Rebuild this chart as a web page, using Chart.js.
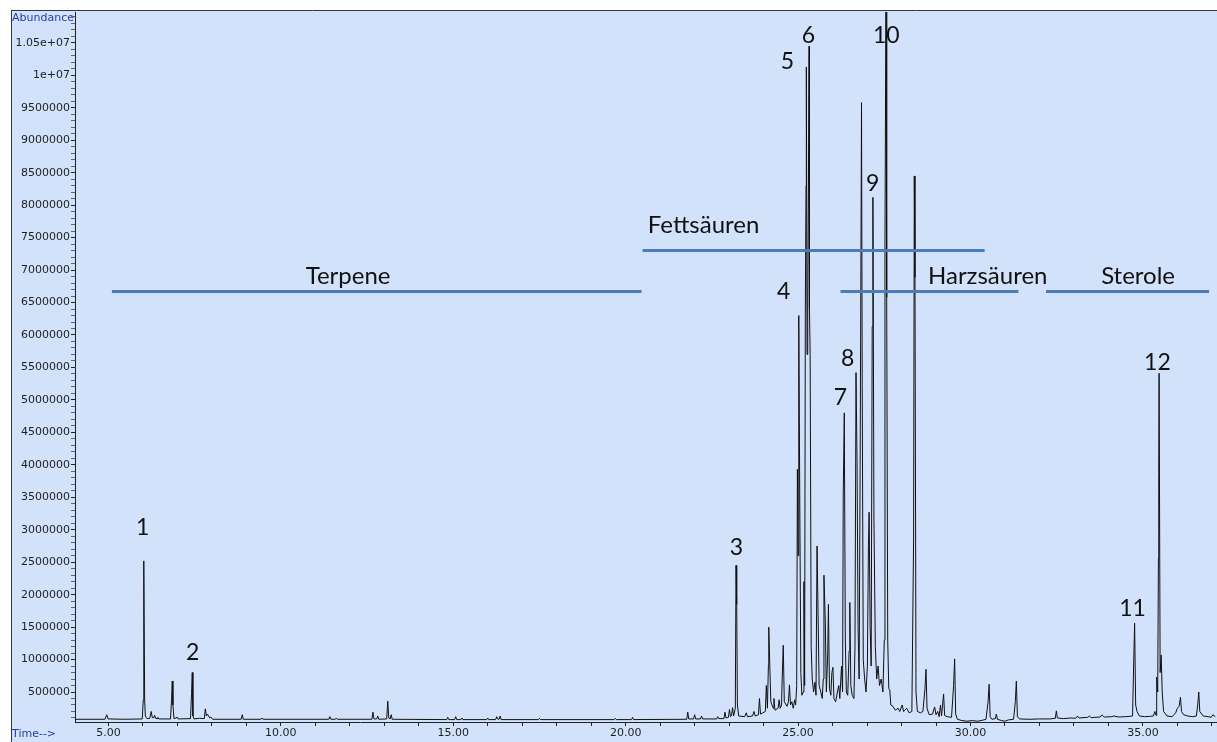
<!DOCTYPE html>
<html>
<head>
<meta charset="utf-8">
<script src="https://cdn.jsdelivr.net/npm/chart.js@4.4.0/dist/chart.umd.min.js"></script>
<style>
  html, body { margin: 0; padding: 0; background: #fff; }
  canvas { display: block; }
</style>
</head>
<body>
<canvas id="tic" width="1217" height="742"></canvas>
<script>
// retention time (min) and abundance
const rtEarly = [4.03, 4.90, 4.95, 4.99, 5.50, 5.98, 6.01, 6.02, 6.03, 6.05, 6.07, 6.12, 6.20, 6.24, 6.27, 6.31, 6.34, 6.37, 6.41, 6.43, 6.46,
  6.80, 6.83, 6.85, 6.87, 6.90, 7.00, 7.02, 7.38, 7.41, 7.43, 7.45, 7.48, 7.64, 7.78, 7.81, 7.84, 7.87, 7.94, 7.97, 8.02,
  8.85, 8.88, 8.91, 9.42, 9.45, 9.48, 11.39, 11.42, 11.45, 11.58, 11.61, 11.64, 12.64, 12.67, 12.70, 12.78, 12.81, 12.84,
  13.07, 13.10, 13.13, 13.17, 13.20, 13.23, 14.81, 14.84, 14.87, 15.04, 15.07, 15.10, 15.22, 15.25, 15.28, 15.97, 16.00, 16.03,
  16.23, 16.26, 16.30, 16.33, 16.36, 16.39, 17.47, 17.50, 17.53, 19.67, 19.70, 19.73, 20.17, 20.20, 20.23, 21.77, 21.80, 21.83,
  21.97, 22.00, 22.03, 22.17, 22.20, 22.23, 22.64, 22.67, 22.70];
const abEarly = [80000, 80000, 150000, 85000, 80000, 85000, 380000, 1760000, 2520000, 380000, 130000, 90000, 95000, 200000, 110000, 100000, 140000, 95000, 90000, 110000, 85000,
  85000, 380000, 670000, 300000, 90000, 110000, 85000, 90000, 480000, 800000, 130000, 85000, 95000, 90000, 240000, 130000, 160000, 100000, 115000, 80000,
  80000, 150000, 80000, 80000, 100000, 80000, 80000, 120000, 80000, 80000, 100000, 80000, 80000, 190000, 85000, 85000, 130000, 80000,
  85000, 360000, 100000, 85000, 150000, 80000, 75000, 110000, 75000, 75000, 120000, 75000, 75000, 100000, 75000, 75000, 100000, 75000,
  75000, 120000, 80000, 80000, 130000, 75000, 75000, 95000, 75000, 75000, 95000, 75000, 75000, 110000, 75000, 80000, 190000, 85000,
  85000, 150000, 85000, 85000, 130000, 85000, 85000, 120000, 90000];

const rtMid = [22.85, 22.88, 22.91, 22.98, 23.01, 23.04, 23.07, 23.10, 23.13, 23.18, 23.20, 23.22, 23.24, 23.28, 23.45, 23.50, 23.53,
  23.68, 23.72, 23.76, 23.85, 23.88, 23.91, 24.05, 24.08, 24.11, 24.14, 24.15, 24.18, 24.21, 24.28, 24.30, 24.33, 24.42, 24.45, 24.48,
  24.52, 24.54, 24.57, 24.60, 24.68, 24.72, 24.75, 24.78, 24.82, 24.86, 24.90, 24.93, 24.96, 24.98, 25.00, 25.02, 25.05, 25.08, 25.11,
  25.15, 25.17, 25.19, 25.21, 25.23, 25.24, 25.26, 25.28, 25.30, 25.32, 25.33, 25.35, 25.38, 25.41, 25.45, 25.49, 25.52, 25.55, 25.58,
  25.61, 25.66, 25.70, 25.73, 25.75, 25.79, 25.82, 25.86, 25.88, 25.91, 25.95, 25.98, 26.01, 26.04, 26.09, 26.14, 26.18, 26.21, 26.26,
  26.29, 26.31, 26.34, 26.37, 26.40, 26.44, 26.48, 26.50, 26.53, 26.57, 26.62, 26.65, 26.68, 26.71, 26.74, 26.77, 26.80, 26.84, 26.86,
  26.89, 26.93, 26.97, 27.01, 27.04, 27.06, 27.09, 27.12, 27.15, 27.17, 27.20, 27.24, 27.28, 27.32, 27.36, 27.41, 27.46, 27.50, 27.52,
  27.55, 27.57, 27.60, 27.63, 27.66, 27.69, 27.75, 27.82, 27.90, 27.95, 28.02, 28.06, 28.15, 28.22, 28.30, 28.35, 28.37, 28.39, 28.42,
  28.46, 28.55, 28.62, 28.68, 28.71, 28.74, 28.80, 28.90, 28.96, 29.00, 29.05, 29.09, 29.13, 29.16, 29.22, 29.25, 29.32];
const abMid = [90000, 190000, 100000, 110000, 230000, 120000, 140000, 260000, 130000, 250000, 2450000, 1850000, 300000, 130000, 120000, 180000, 120000,
  130000, 200000, 130000, 150000, 400000, 160000, 200000, 600000, 250000, 920000, 1500000, 900000, 350000, 250000, 400000, 220000, 250000, 380000, 250000,
  300000, 730000, 1220000, 350000, 280000, 350000, 610000, 300000, 350000, 250000, 380000, 300000, 600000, 3930000, 2600000, 6300000, 3360000, 800000, 450000,
  500000, 2200000, 600000, 6350000, 8300000, 10130000, 5700000, 6400000, 8300000, 10450000, 6400000, 5700000, 1200000, 700000, 500000, 650000, 450000, 2750000, 1700000,
  600000, 500000, 400000, 700000, 2300000, 1580000, 500000, 1100000, 1850000, 550000, 450000, 800000, 880000, 400000, 350000, 500000, 600000, 400000, 900000,
  500000, 3580000, 4800000, 1300000, 500000, 450000, 1130000, 1880000, 600000, 450000, 400000, 1180000, 5420000, 4040000, 1500000, 700000, 3990000, 9580000, 5220000,
  1000000, 700000, 500000, 900000, 2760000, 3270000, 1500000, 900000, 6130000, 8120000, 3150000, 1200000, 700000, 900000, 600000, 700000, 500000, 1300000, 7400000,
  11500000, 6580000, 1300000, 550000, 530000, 300000, 280000, 220000, 250000, 200000, 300000, 200000, 250000, 180000, 200000, 2870000, 8450000, 6890000, 500000,
  200000, 180000, 200000, 550000, 850000, 250000, 150000, 160000, 270000, 150000, 200000, 120000, 300000, 130000, 470000, 140000, 120000];

const rtLate = [29.45, 29.51, 29.54, 29.57, 29.62, 29.75, 29.90, 30.05, 30.20, 30.35, 30.45, 30.51, 30.54, 30.57, 30.62, 30.72, 30.75, 30.78,
  30.90, 31.00, 31.10, 31.25, 31.30, 31.33, 31.36, 31.42, 31.70, 32.00, 32.30, 32.46, 32.49, 32.52, 32.70, 32.90, 33.05, 33.10, 33.15,
  33.40, 33.45, 33.50, 33.75, 33.82, 33.88, 34.10, 34.15, 34.30, 34.50, 34.60, 34.70, 34.73, 34.76, 34.79, 34.83, 34.90, 35.05, 35.20,
  35.30, 35.35, 35.38, 35.40, 35.43, 35.45, 35.46, 35.47, 35.50, 35.53, 35.56, 35.60, 35.70, 35.85, 35.95, 36.00, 36.05, 36.09, 36.12,
  36.18, 36.30, 36.45, 36.55, 36.59, 36.62, 36.65, 36.75, 36.90, 36.98, 37.03, 37.10];
const abLate = [110000, 600000, 1010000, 160000, 80000, 60000, 50000, 60000, 50000, 65000, 80000, 350000, 620000, 120000, 80000, 90000, 160000, 80000,
  60000, 50000, 70000, 80000, 350000, 670000, 120000, 85000, 80000, 85000, 85000, 95000, 210000, 100000, 90000, 100000, 95000, 130000, 100000,
  110000, 130000, 105000, 115000, 145000, 115000, 120000, 130000, 115000, 120000, 125000, 130000, 870000, 1560000, 300000, 200000, 130000, 120000, 125000,
  130000, 200000, 140000, 730000, 500000, 2560000, 3870000, 5410000, 800000, 1070000, 500000, 200000, 130000, 120000, 180000, 250000, 280000, 420000, 200000,
  150000, 130000, 120000, 130000, 300000, 500000, 200000, 130000, 120000, 110000, 150000, 120000];

// axis ticks
const yTickValues = [500000, 1000000, 1500000, 2000000, 2500000, 3000000, 3500000, 4000000, 4500000, 5000000, 5500000,
  6000000, 6500000, 7000000, 7500000, 8000000, 8500000, 9000000, 9500000, 10000000, 10500000];
const yTickLabels = ['500000', '1000000', '1500000', '2000000', '2500000', '3000000', '3500000', '4000000', '4500000', '5000000', '5500000',
  '6000000', '6500000', '7000000', '7500000', '8000000', '8500000', '9000000', '9500000', '1e+07', '1.05e+07'];
const xTickValues = [5, 10, 15, 20, 25, 30, 35];
const xTickLabels = ['5.00', '10.00', '15.00', '20.00', '25.00', '30.00', '35.00'];

// compound class ranges (min) drawn as bars above the peaks
const groupNames = ['Terpene', 'Fettsäuren', 'Harzsäuren', 'Sterole'];
const groupStart = [5.10, 20.49, 26.23, 32.19];
const groupEnd = [20.46, 30.41, 31.39, 36.92];
const groupLevel = [6670000, 7300000, 6670000, 6670000];
const groupTextAt = [11.95, 22.26, 30.50, 34.86];

// peak numbers
const peakNo = ['1', '2', '3', '4', '5', '6', '7', '8', '9', '10', '11', '12'];
const peakNoRt = [5.99, 7.44, 23.21, 24.58, 24.69, 25.30, 26.23, 26.44, 27.16, 27.56, 34.70, 35.42];
const peakNoAb = [3040000, 1100000, 2720000, 6670000, 10210000, 10610000, 5040000, 5640000, 8330000, 10610000, 1790000, 5580000];

const rt = rtEarly.concat(rtMid, rtLate);
const ab = abEarly.concat(abMid, abLate);
const points = rt.map((t, i) => ({ x: t, y: ab[i] }));

const tickFont = { family: 'DejaVu Sans', size: 11 };
const tickColor = '#1e1e1e';
const blueText = '#233f9e';

const framePlugin = {
  id: 'frame',
  beforeDraw(chart) {
    const c = chart.ctx;
    c.save();
    c.fillStyle = '#ffffff';
    c.fillRect(0, 0, chart.width, chart.height);
    c.fillStyle = '#d3e2fb';
    c.fillRect(11, 11, chart.width - 11, chart.height - 11);
    c.strokeStyle = '#2e3548';
    c.lineWidth = 1;
    c.beginPath();
    c.moveTo(11, 10.5); c.lineTo(chart.width, 10.5);
    c.moveTo(11.5, 10); c.lineTo(11.5, chart.height);
    c.stroke();
    c.font = '11px "DejaVu Sans"';
    c.fillStyle = blueText;
    c.textBaseline = 'middle';
    c.textAlign = 'left';
    c.fillText('Abundance', 12, 18);
    c.fillText('Time-->', 12, 734);
    c.restore();
  }
};

const labelPlugin = {
  id: 'labels',
  afterDatasetsDraw(chart) {
    const c = chart.ctx;
    const x = chart.scales.x, y = chart.scales.y;
    c.save();
    c.strokeStyle = '#4a7ebb';
    c.lineWidth = 3;
    c.fillStyle = '#111';
    c.font = '24px Lato';
    c.textAlign = 'center';
    c.textBaseline = 'middle';
    groupNames.forEach((name, i) => {
      const py = y.getPixelForValue(groupLevel[i]);
      c.beginPath();
      c.moveTo(x.getPixelForValue(groupStart[i]), py);
      c.lineTo(x.getPixelForValue(groupEnd[i]), py);
      c.stroke();
      const up = name === 'Fettsäuren' ? 25 : 15;
      c.fillText(name, x.getPixelForValue(groupTextAt[i]), py - up);
    });
    c.font = '23px Lato';
    peakNo.forEach((n, i) => {
      c.fillText(n, x.getPixelForValue(peakNoRt[i]), y.getPixelForValue(peakNoAb[i]));
    });
    c.restore();
  }
};

new Chart(document.getElementById('tic'), {
  type: 'line',
  data: {
    datasets: [{
      data: points,
      borderColor: '#111111',
      borderWidth: 1,
      pointRadius: 0,
      tension: 0,
      fill: false
    }]
  },
  options: {
    responsive: false,
    devicePixelRatio: 1,
    animation: false,
    layout: { padding: { left: 11, top: 12, right: 1, bottom: 0 } },
    plugins: { legend: { display: false }, tooltip: { enabled: false } },
    scales: {
      x: {
        type: 'linear',
        min: 4.03,
        max: 37.12,
        afterBuildTicks(scale) {
          const ticks = [];
          for (let t = 5; t <= 37; t++) ticks.push({ value: t });
          scale.ticks = ticks;
        },
        afterFit(scale) { scale.height = 20; },
        ticks: {
          autoSkip: false,
          maxRotation: 0,
          padding: 1,
          font: tickFont,
          color: tickColor,
          callback(v) {
            const k = xTickValues.indexOf(v);
            return k >= 0 ? xTickLabels[k] : '';
          }
        },
        grid: { drawOnChartArea: false, tickLength: 4, tickColor: '#222' },
        border: { color: '#222', width: 1 }
      },
      y: {
        type: 'linear',
        min: 38000,
        max: 10976000,
        afterBuildTicks(scale) {
          const ticks = [];
          for (let v = 100000; v <= 10900000; v += 100000) ticks.push({ value: v });
          scale.ticks = ticks;
        },
        afterFit(scale) { scale.width = 64; },
        ticks: {
          autoSkip: false,
          padding: 1,
          font: tickFont,
          color: tickColor,
          callback(v) {
            const k = yTickValues.indexOf(v);
            return k >= 0 ? yTickLabels[k] : '';
          }
        },
        grid: {
          drawOnChartArea: false,
          tickLength: 4,
          tickColor: (ctx) => (yTickValues.indexOf(ctx.tick.value) >= 0 ? '#222' : '#666')
        },
        border: { color: '#222', width: 1 }
      }
    }
  },
  plugins: [framePlugin, labelPlugin]
});
</script>
</body>
</html>
